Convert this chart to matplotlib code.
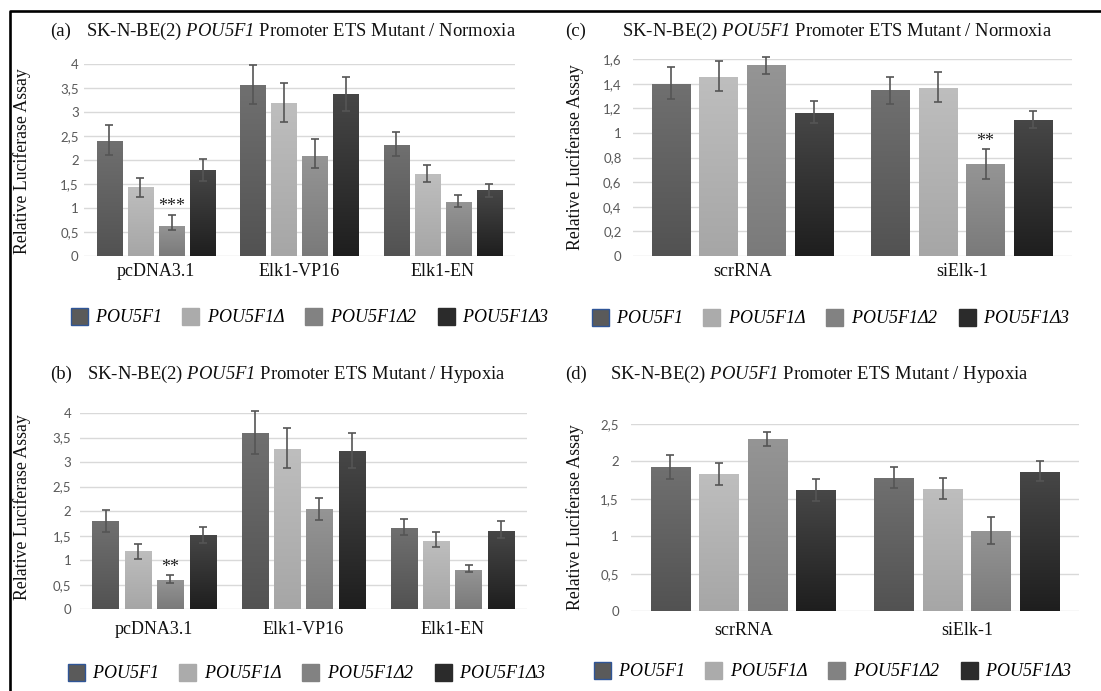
import numpy as np
import matplotlib
matplotlib.use("Agg")
import matplotlib.pyplot as plt
from matplotlib.patches import Patch
from matplotlib.lines import Line2D
from matplotlib.colors import LinearSegmentedColormap
from matplotlib.ticker import FuncFormatter, MultipleLocator
from matplotlib.font_manager import FontProperties

# italic gene names: letters, digits and Greek all in the italic serif face
plt.rcParams["mathtext.fontset"] = "custom"
plt.rcParams["mathtext.rm"] = "Liberation Serif:italic"
plt.rcParams["mathtext.it"] = "Liberation Serif:italic"

# ---------------- data ----------------
series = ["POU5F1", "POU5F1Δ", "POU5F1Δ2", "POU5F1Δ3"]
groups_ab = ["pcDNA3.1", "Elk1-VP16", "Elk1-EN"]
groups_cd = ["scrRNA", "siElk-1"]

# (a) Normoxia, overexpression constructs
a_mean = [[2.41, 3.57, 2.32], [1.43, 3.19, 1.71], [0.63, 2.09, 1.13], [1.79, 3.37, 1.37]]
a_hi = [[0.32, 0.41, 0.27], [0.19, 0.41, 0.19], [0.23, 0.35, 0.15], [0.23, 0.36, 0.14]]
a_lo = [[0.31, 0.39, 0.23], [0.19, 0.39, 0.17], [0.08, 0.25, 0.11], [0.23, 0.34, 0.14]]

# (b) Hypoxia, overexpression constructs
b_mean = [[1.79, 3.59, 1.66], [1.19, 3.26, 1.40], [0.60, 2.04, 0.81], [1.51, 3.23, 1.60]]
b_hi = [[0.24, 0.46, 0.19], [0.15, 0.43, 0.18], [0.09, 0.23, 0.09], [0.17, 0.37, 0.19]]
b_lo = [[0.21, 0.42, 0.15], [0.16, 0.39, 0.13], [0.06, 0.23, 0.06], [0.16, 0.35, 0.15]]

# (c) Normoxia, knockdown
c_mean = [[1.40, 1.35], [1.46, 1.37], [1.55, 0.75], [1.16, 1.11]]
c_hi = [[0.14, 0.11], [0.13, 0.13], [0.07, 0.12], [0.10, 0.07]]
c_lo = [[0.12, 0.11], [0.12, 0.12], [0.07, 0.12], [0.08, 0.07]]

# (d) Hypoxia, knockdown
d_mean = [[1.92, 1.78], [1.83, 1.63], [2.29, 1.07], [1.61, 1.86]]
d_hi = [[0.16, 0.14], [0.14, 0.15], [0.10, 0.19], [0.15, 0.14]]
d_lo = [[0.16, 0.14], [0.15, 0.13], [0.09, 0.17], [0.14, 0.12]]

# significance marks: (group index, series index, text)
a_sig = [(0, 2, "***")]
b_sig = [(0, 2, "**")]
c_sig = [(1, 2, "**")]
d_sig = []

# ---------------- style ----------------
W, H = 1101, 691
SERIF = "Liberation Serif"
bar_top = ["#707070", "#bebebe", "#959595", "#474747"]
bar_bottom = ["#525252", "#a6a6a6", "#7a7a7a", "#1e1e1e"]
legend_fill = ["#5a5a5a", "#ababab", "#828282", "#2b2b2b"]
err_color = "#555555"
grid_color = "#d9d9d9"
tick_color = "#595959"

fig = plt.figure(figsize=(W / 100, H / 100), dpi=100)
fig.patch.set_facecolor("white")


def axes_px(left, right, top, bottom):
    return fig.add_axes([left / W, 1 - bottom / H, (right - left) / W, (bottom - top) / H])


def comma_fmt(v, _pos):
    s = ("%g" % round(v, 3))
    return s.replace(".", ",")


def panel(box, groups, mean, hi, lo, sig, ymax, ystep, tick_pad, cat_pad,
          letter, letter_x, title_x, title_y, condition, ylab_x, ylab_y,
          leg_x, leg_y):
    ax = axes_px(*box)
    n = len(series)
    width, pitch = 0.176, 0.217
    xg = np.arange(len(groups))
    for i in range(n):
        xs = xg + (i - (n - 1) / 2) * pitch
        bars = ax.bar(xs, mean[i], width, color="none", edgecolor="none", zorder=2)
        cmap = LinearSegmentedColormap.from_list("g%d" % i, [bar_bottom[i], bar_top[i]])
        grad = np.linspace(0, 1, 256).reshape(-1, 1)
        for b in bars:
            x0, w, h = b.get_x(), b.get_width(), b.get_height()
            im = ax.imshow(grad, cmap=cmap, extent=[x0, x0 + w, 0, h], origin="lower",
                           aspect="auto", zorder=2, interpolation="bilinear")
            im.set_clip_path(b)
        ax.errorbar(xs, mean[i], yerr=[lo[i], hi[i]], fmt="none", ecolor=err_color,
                    elinewidth=1.2, capsize=2.8, capthick=1.2, zorder=3, clip_on=False)
    for gi, si, txt in sig:
        x = gi + (si - (n - 1) / 2) * pitch
        ax.annotate(txt, (x, mean[si][gi] + hi[si][gi]), xytext=(0, 2.5),
                    textcoords="offset points", ha="center", va="baseline",
                    fontsize=13, family=SERIF, color="#222222")
    ax.set_xlim(-0.5, len(groups) - 0.5)
    ax.set_ylim(0, ymax)
    ax.yaxis.set_major_locator(MultipleLocator(ystep))
    ax.yaxis.set_major_formatter(FuncFormatter(comma_fmt))
    ax.set_xticks(xg)
    ax.set_xticklabels(groups, fontsize=13, family=SERIF, color="#111111")
    ax.tick_params(axis="x", length=0, pad=cat_pad)
    ax.tick_params(axis="y", length=0, pad=tick_pad, labelsize=9.5, labelcolor=tick_color)
    for lab in ax.get_yticklabels():
        lab.set_family("Lato")
    for sp in ax.spines.values():
        sp.set_visible(False)
    ax.yaxis.grid(True, color=grid_color, linewidth=1.0, zorder=0)
    ax.set_axisbelow(True)
    ax.set_facecolor("none")

    fig.text(letter_x / W, 1 - title_y / H, letter, fontsize=13.5, family=SERIF,
             ha="left", va="center", color="#111111")
    fig.text(title_x / W, 1 - title_y / H,
             r"SK-N-BE(2) $POU5F1$ Promoter ETS Mutant / " + condition,
             fontsize=13.4, family=SERIF, ha="left", va="center", color="#111111")
    fig.text(ylab_x / W, 1 - ylab_y / H, "Relative Luciferase Assay", rotation=90,
             fontsize=12.8, family=SERIF, ha="center", va="center", color="#111111")

    handles = []
    for i in range(n):
        ec = "#2f5597" if i == 0 else legend_fill[i]
        handles.append(Patch(facecolor=legend_fill[i], edgecolor=ec, linewidth=1.0))
    ax.legend(handles, ["$%s$" % s for s in series], loc="center",
              bbox_to_anchor=(leg_x / W, 1 - leg_y / H),
              bbox_transform=fig.transFigure, ncol=4, frameon=False,
              handlelength=0.95, handleheight=1.1, handletextpad=0.4,
              columnspacing=1.15, borderpad=0,
              prop=FontProperties(family=SERIF, size=13))
    return ax


panel((84.3, 514.5, 64.3, 256.0), groups_ab, a_mean, a_hi, a_lo, a_sig, 4, 0.5, 4, 5,
      "(a)", 50, 86, 31, "Normoxia", 22, 161, 310, 317)
panel((632.7, 1071.5, 59.3, 256.0), groups_cd, c_mean, c_hi, c_lo, c_sig, 1.6, 0.2, 8, 5,
      "(c)", 565, 622, 31, "Normoxia", 575, 157, 831, 318)
panel((79.5, 527.0, 413.0, 609.3), groups_ab, b_mean, b_hi, b_lo, b_sig, 4, 0.5, 6, 8.5,
      "(b)", 50, 87, 374, "Hypoxia", 22, 507, 307, 673)
panel((631.4, 1078.6, 423.7, 611.3), groups_cd, d_mean, d_hi, d_lo, d_sig, 2.5, 0.5, 9, 8,
      "(d)", 565, 610, 374, "Hypoxia", 575, 517, 833, 671)

# frame lines along the left and top edges
fig.add_artist(Line2D([9.5 / W, 9.5 / W, 1.0], [0.0, 1 - 10.5 / H, 1 - 10.5 / H],
                      transform=fig.transFigure, color="black", linewidth=1.9))

fig.savefig("out.png", dpi=100, facecolor="white")
